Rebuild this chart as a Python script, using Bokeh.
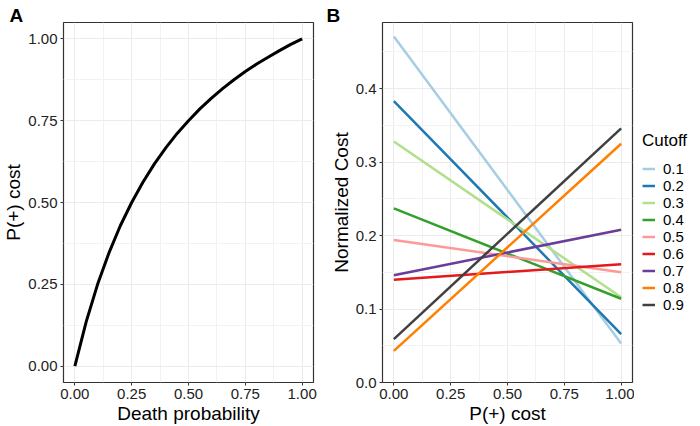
from bokeh.plotting import figure
from bokeh.models import (Range1d, FixedTicker, Title, Legend, LegendItem)
from bokeh.layouts import row
from bokeh.embed import file_html
from bokeh.resources import INLINE

# ---- Panel A data ----
death_prob = [0.0, 0.05, 0.1, 0.15, 0.2, 0.25, 0.3, 0.35, 0.4, 0.45, 0.5,
              0.55, 0.6, 0.65, 0.7, 0.75, 0.8, 0.85, 0.9, 0.95, 1.0]
pos_cost = [0.0, 0.136, 0.25, 0.346, 0.429, 0.5, 0.5625, 0.618, 0.667, 0.711, 0.75,
            0.786, 0.818, 0.848, 0.875, 0.9, 0.923, 0.944, 0.964, 0.983, 1.0]

# ---- Panel B data ----
cutoffs = ["0.1", "0.2", "0.3", "0.4", "0.5", "0.6", "0.7", "0.8", "0.9"]
cost_at_0 = [0.471, 0.383, 0.328, 0.237, 0.194, 0.140, 0.146, 0.043, 0.059]
cost_at_1 = [0.053, 0.066, 0.116, 0.114, 0.150, 0.161, 0.208, 0.325, 0.346]
pcost_x = [0.0, 1.0]
line_colors = ["#A6CEE3", "#1F78B4", "#B2DF8A", "#33A02C", "#FB9A99",
               "#E31A1C", "#6A3D9A", "#FF7F00", "#404040"]

x_ticks = [0.0, 0.25, 0.5, 0.75, 1.0]
x_minor = [0.125, 0.375, 0.625, 0.875]
a_y_ticks = [0.0, 0.25, 0.5, 0.75, 1.0]
a_y_minor = [0.125, 0.375, 0.625, 0.875]
b_y_ticks = [0.0, 0.1, 0.2, 0.3, 0.4]
b_y_minor = [0.05, 0.15, 0.25, 0.35, 0.45]

FONT = "Liberation Sans"
FRAME_H = 360
FRAME_W = 250
TOP = 22


def style(p, xt, xm, yt, ym, fmt_x, fmt_y):
    p.xaxis.ticker = FixedTicker(ticks=xt, minor_ticks=xm)
    p.yaxis.ticker = FixedTicker(ticks=yt, minor_ticks=ym)
    p.xaxis.major_label_overrides = {t: fmt_x.format(t) for t in xt}
    p.yaxis.major_label_overrides = {t: fmt_y.format(t) for t in yt}
    for ax in (p.xaxis, p.yaxis):
        ax.axis_line_color = None
        ax.major_tick_line_color = "#333333"
        ax.major_tick_out = 3
        ax.major_tick_in = 0
        ax.minor_tick_line_color = None
        ax.major_label_text_font = FONT
        ax.major_label_text_font_size = "15px"
        ax.major_label_text_color = "#222222"
        ax.axis_label_text_font = FONT
        ax.axis_label_text_font_size = "19px"
        ax.axis_label_text_font_style = "normal"
        ax.axis_label_text_color = "#000000"
        ax.major_label_standoff = 2
        ax.axis_label_standoff = 1
    for g in (p.xgrid, p.ygrid):
        g.grid_line_color = "#EBEBEB"
        g.grid_line_width = 1
        g.minor_grid_line_color = "#F2F2F2"
        g.minor_grid_line_width = 1
    p.outline_line_color = "#333333"
    p.outline_line_width = 1.2
    p.background_fill_color = "white"
    p.border_fill_color = "white"


def panel_tag(p, text, offset):
    t = Title(text=text, align="left", offset=offset, standoff=-6,
              text_font=FONT, text_font_style="bold", text_font_size="19px",
              text_color="black")
    p.add_layout(t, "above")


# ---- Panel A ----
pa = figure(frame_width=FRAME_W, frame_height=FRAME_H, output_backend="svg",
            toolbar_location=None, x_range=Range1d(-0.05, 1.05),
            y_range=Range1d(-0.05, 1.05), min_border_top=TOP, min_border_left=50,
            min_border_right=5, min_border_bottom=0)
pa.line(death_prob, pos_cost, line_width=3, line_color="black")
pa.xaxis.axis_label = "Death probability"
pa.yaxis.axis_label = "P(+) cost"
style(pa, x_ticks, x_minor, a_y_ticks, a_y_minor, "{:.2f}", "{:.2f}")
panel_tag(pa, "A", -54)

# ---- Panel B ----
pb = figure(frame_width=FRAME_W, frame_height=FRAME_H, output_backend="svg",
            toolbar_location=None, x_range=Range1d(-0.05, 1.05),
            y_range=Range1d(0.0, 0.49), min_border_top=TOP, min_border_left=64,
            min_border_right=2, min_border_bottom=0)
for c, y0, y1, col in zip(cutoffs, cost_at_0, cost_at_1, line_colors):
    pb.line(pcost_x, [y0, y1], line_width=2.5, line_color=col)
pb.xaxis.axis_label = "P(+) cost"
pb.yaxis.axis_label = "Normalized Cost"
style(pb, x_ticks, x_minor, b_y_ticks, b_y_minor, "{:.2f}", "{:.1f}")
panel_tag(pb, "B", -56)

# ---- Legend column (separate canvas, so it is never clipped) ----
# legend proxies use the same data, but this canvas' ranges keep them hidden
pl = figure(width=59, height=410, output_backend="svg", toolbar_location=None,
            x_axis_type=None, y_axis_type=None, x_range=Range1d(5, 6),
            y_range=Range1d(5, 6), min_border=0)
pl.outline_line_color = None
pl.xgrid.visible = False
pl.ygrid.visible = False
pl.background_fill_color = "white"
pl.border_fill_color = "white"
items = []
for c, y0, y1, col in zip(cutoffs, cost_at_0, cost_at_1, line_colors):
    r = pl.line(pcost_x, [y0, y1], line_width=2.5, line_color=col)
    items.append(LegendItem(label=c, renderers=[r]))
legend = Legend(items=items, title="Cutoff", location=(8, 53),
                border_line_color=None, background_fill_alpha=0,
                label_text_font=FONT, label_text_font_size="15px",
                label_text_color="black",
                title_text_font=FONT, title_text_font_size="17px",
                title_text_color="black",
                title_text_font_style="normal", glyph_width=13, glyph_height=15,
                label_height=15, spacing=0, label_standoff=8, padding=0,
                margin=0, title_standoff=9)
pl.add_layout(legend, "center")

layout = row(pa, pb, pl, spacing=0)
open("out.html", "w").write(file_html(layout, INLINE))
